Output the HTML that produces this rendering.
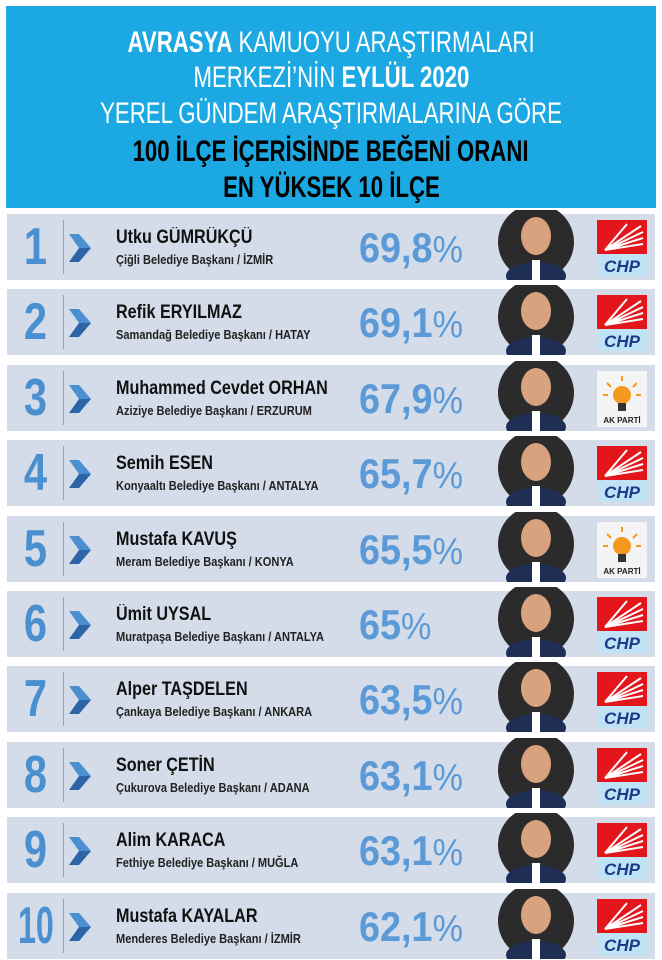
<!DOCTYPE html>
<html><head><meta charset="utf-8">
<style>
body{margin:0;width:662px;height:960px;background:#fff;position:relative;overflow:hidden;font-family:"Liberation Sans",sans-serif}
.hdr{position:absolute;left:6px;top:6px;width:650px;height:202px;background:#1ca8e2}
.hl{position:absolute;left:0;width:650px;text-align:center;font-size:30px;line-height:30px;white-space:nowrap}
.hl span.in{display:inline-block;transform:scaleX(0.74);transform-origin:center}
.w{color:#fff}.b{color:#000;font-weight:bold}
.row{position:absolute;left:7px;width:648px;height:66px;background:#d4dcea}
.num{position:absolute;left:0;width:56px;text-align:center;font-weight:bold;color:#4a8fd0;font-size:52px;line-height:66px}
.num span{display:inline-block;transform:scaleX(0.8)}
.num span.two{transform:scaleX(0.62)}
.div{position:absolute;left:56px;top:6px;width:1px;height:54px;background:#8ca6c8}
.chev{position:absolute;left:62px;top:20px}
.name{position:absolute;left:109px;top:13px;font-weight:bold;font-size:19px;color:#111;white-space:nowrap;transform:scaleX(0.85);transform-origin:left}
.sub{position:absolute;left:109px;top:38px;font-weight:bold;font-size:13px;color:#222;white-space:nowrap;transform:scaleX(0.85);transform-origin:left}
.pct{position:absolute;left:352px;top:10px;font-weight:bold;font-size:42px;color:#5b9ad6;white-space:nowrap;transform:scaleX(0.9);transform-origin:left}
.pct small{font-weight:normal;font-size:38px}
.photo{position:absolute;left:489px;top:-4px;width:80px;height:70px}
.logo{position:absolute;left:590px;top:6px;width:50px;height:56px}
</style></head><body>
<div class="hdr">
<div class="hl w" style="top:22px"><span class="in"><b>AVRASYA</b> KAMUOYU ARAŞTIRMALARI</span></div>
<div class="hl w" style="top:57px"><span class="in">MERKEZİ’NİN <b>EYLÜL 2020</b></span></div>
<div class="hl w" style="top:93px"><span class="in">YEREL GÜNDEM ARAŞTIRMALARINA GÖRE</span></div>
<div class="hl b" style="top:131px"><span class="in">100 İLÇE İÇERİSİNDE BEĞENİ ORANI</span></div>
<div class="hl b" style="top:167px"><span class="in">EN YÜKSEK 10 İLÇE</span></div>
</div>
<div id="list"></div>
<script>
const names=["Utku GÜMRÜKÇÜ","Refik ERYILMAZ","Muhammed Cevdet ORHAN","Semih ESEN","Mustafa KAVUŞ","Ümit UYSAL","Alper TAŞDELEN","Soner ÇETİN","Alim KARACA","Mustafa KAYALAR"];
const districts=["Çiğli","Samandağ","Aziziye","Konyaaltı","Meram","Muratpaşa","Çankaya","Çukurova","Fethiye","Menderes"];
const provinces=["İZMİR","HATAY","ERZURUM","ANTALYA","KONYA","ANTALYA","ANKARA","ADANA","MUĞLA","İZMİR"];
const values=["69,8","69,1","67,9","65,7","65,5","65","63,5","63,1","63,1","62,1"];
const parties=["CHP","CHP","AK","CHP","AK","CHP","CHP","CHP","CHP","CHP"];
const list=document.getElementById('list');
function chp(){return '<svg width="50" height="56"><rect x="0" y="0" width="50" height="34" fill="#e3161b"/><g stroke="#fff" stroke-width="2" fill="none"><path d="M8 30 L44 6"/><path d="M8 30 L46 12"/><path d="M8 30 L46 18"/><path d="M8 30 L46 24"/><path d="M8 30 L30 4"/></g><rect x="0" y="34" width="50" height="22" fill="#bfe3f5"/><text x="25" y="52" text-anchor="middle" font-family="Liberation Sans" font-weight="bold" font-style="italic" font-size="17" fill="#1b3a8a">CHP</text></svg>'}
function ak(){return '<svg width="50" height="56"><rect width="50" height="56" fill="#f4f4f4"/><circle cx="25" cy="24" r="9" fill="#f39a1e"/><rect x="21" y="32" width="8" height="8" fill="#333"/><g stroke="#f39a1e" stroke-width="2"><path d="M25 5v5M10 12l4 4M40 12l-4 4M6 24h5M44 24h-5"/></g><text x="25" y="52" text-anchor="middle" font-family="Liberation Sans" font-weight="bold" font-size="8" fill="#222">AK PARTİ</text></svg>'}
for(let i=0;i<names.length;i++){
 const r=document.createElement('div');
 r.className='row';
 
 
 r.style.top=(214+i*75.4)+'px';
 const rank=String(i+1);
 r.innerHTML='<div class="num"><span class="'+(rank.length>1?'two':'')+'">'+rank+'</span></div>'+
 '<div class="div"></div>'+
 '<svg class="chev" width="26" height="28"><polygon points="0,0 10,0 22,14 10,14" fill="#4a8fd0"/><polygon points="10,14 22,14 10,28 0,28" fill="#2c64a8"/></svg>'+
 '<div class="name">'+names[i]+'</div>'+
 '<div class="sub">'+districts[i]+' Belediye Başkanı / '+provinces[i]+'</div>'+
 '<div class="pct">'+values[i]+'<small>%</small></div>'+
 '<svg class="photo" width="80" height="70"><circle cx="40" cy="32" r="38" fill="#2b2b2b"/><ellipse cx="40" cy="66" rx="30" ry="14" fill="#1e2e55"/><rect x="36" y="50" width="8" height="20" fill="#fff"/><ellipse cx="40" cy="26" rx="15" ry="19" fill="#d9a27e"/></svg>'+
 '<div class="logo">'+(parties[i]==='AK'?ak():chp())+'</div>';
 list.appendChild(r);
}
</script>
</body></html>
